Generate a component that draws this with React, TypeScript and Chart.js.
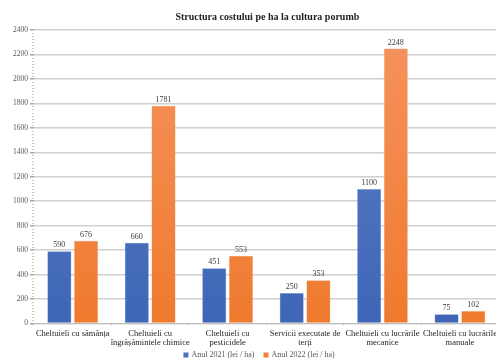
import React, { useEffect, useRef } from "react";
import { Chart, registerables } from "chart.js";

Chart.register(...registerables);

const categories: string[][] = [
  ["Cheltuieli cu sămânța"],
  ["Cheltuieli cu", "îngrășămintele chimice"],
  ["Cheltuieli cu", "pesticidele"],
  ["Servicii executate de", "terți"],
  ["Cheltuieli cu lucrările", "mecanice"],
  ["Cheltuieli cu lucrările", "manuale"],
];
const series2021: number[] = [590, 660, 451, 250, 1100, 75];
const series2022: number[] = [676, 1781, 553, 353, 2248, 102];
const seriesNames: string[] = ["Anul 2021 (lei / ha)", "Anul 2022 (lei / ha)"];
const seriesColors: string[] = ["#4a70c0", "#f07f36"];
const chartTitle = "Structura costului pe ha la cultura porumb";

const SERIF = "'Liberation Serif', 'Times New Roman', serif";
const CANVAS_W = 500;
const CANVAS_H = 361;

function gradient(chart: any, top: string, bottom: string) {
  const area = chart.chartArea;
  if (!area) return bottom;
  const g = chart.ctx.createLinearGradient(0, area.top, 0, area.bottom);
  g.addColorStop(0, top);
  g.addColorStop(1, bottom);
  return g;
}

// Writes each bar's value just above it
const valueLabels = {
  id: "valueLabels",
  afterDatasetsDraw(chart: any) {
    const ctx = chart.ctx;
    ctx.save();
    ctx.font = `8px ${SERIF}`;
    ctx.fillStyle = "#404040";
    ctx.textAlign = "center";
    ctx.textBaseline = "bottom";
    chart.data.datasets.forEach((ds: any, i: number) => {
      const meta = chart.getDatasetMeta(i);
      meta.data.forEach((bar: any, j: number) => {
        ctx.fillText(String(ds.data[j]), bar.x, bar.y - 2);
      });
    });
    ctx.restore();
  },
};

// Faint minor tick marks along the value axis
const minorTicks = {
  id: "minorTicks",
  afterDraw(chart: any) {
    const y = chart.scales.y;
    const ctx = chart.ctx;
    const x = chart.chartArea.left;
    ctx.save();
    ctx.strokeStyle = "#c9c9c9";
    ctx.lineWidth = 1;
    for (let v = 0; v <= y.max; v += 25) {
      if (v % 200 === 0) continue;
      const py = Math.round(y.getPixelForValue(v)) + 0.5;
      ctx.beginPath();
      ctx.moveTo(x - 2, py);
      ctx.lineTo(x, py);
      ctx.stroke();
    }
    ctx.restore();
  },
};

// Bold title centred over the plot area
const topTitle = {
  id: "topTitle",
  afterDraw(chart: any) {
    const ctx = chart.ctx;
    const area = chart.chartArea;
    ctx.save();
    ctx.font = `bold 10px ${SERIF}`;
    ctx.fillStyle = "#1f1f1f";
    ctx.textAlign = "center";
    ctx.textBaseline = "middle";
    ctx.fillText(chartTitle, (area.left + area.right) / 2 + 1, 17);
    ctx.restore();
  },
};

// Compact legend row under the chart
const bottomLegend = {
  id: "bottomLegend",
  afterDraw(chart: any) {
    const ctx = chart.ctx;
    ctx.save();
    ctx.font = `8px ${SERIF}`;
    ctx.textBaseline = "middle";
    const box = 5;
    const gapText = 3;
    const gapItem = 9;
    const widths = seriesNames.map((n) => box + gapText + ctx.measureText(n).width);
    const total = widths.reduce((a, b) => a + b, 0) + gapItem * (widths.length - 1);
    let x = 259 - total / 2;
    const y = chart.height - 6;
    seriesNames.forEach((name, i) => {
      ctx.fillStyle = seriesColors[i];
      ctx.fillRect(x, y - box / 2, box, box);
      ctx.fillStyle = "#595959";
      ctx.textAlign = "left";
      ctx.fillText(name, x + box + gapText, y);
      x += widths[i] + gapItem;
    });
    ctx.restore();
  },
};

export default function App() {
  const ref = useRef<HTMLCanvasElement>(null);

  useEffect(() => {
    if (!ref.current) return;
    const chart = new Chart(ref.current, {
      type: "bar",
      data: {
        labels: categories,
        datasets: [
          {
            label: seriesNames[0],
            data: series2021,
            backgroundColor: (c: any) => gradient(c.chart, "#5a80c9", "#3f65b6"),
            borderColor: "#7e9bd6",
            borderWidth: 0.5,
          },
          {
            label: seriesNames[1],
            data: series2022,
            backgroundColor: (c: any) => gradient(c.chart, "#f6935e", "#ef7a2e"),
            borderColor: "#f8b08a",
            borderWidth: 0.5,
          },
        ],
      },
      options: {
        animation: false,
        responsive: false,
        maintainAspectRatio: false,
        categoryPercentage: 0.69,
        barPercentage: 0.9,
        layout: { padding: { top: 30, right: 0, left: 0, bottom: 10 } },
        plugins: {
          title: { display: false },
          legend: { display: false },
          tooltip: { enabled: false },
        },
        scales: {
          x: {
            grid: {
              display: true,
              offset: true,
              drawOnChartArea: false,
              color: "#bfbfbf",
              tickLength: 2,
            },
            border: { color: "#bfbfbf" },
            ticks: {
              color: "#262626",
              font: { family: SERIF, size: 8.5, lineHeight: 1.15 },
              maxRotation: 0,
              autoSkip: false,
              padding: 3,
            },
          },
          y: {
            min: 0,
            max: 2400,
            afterFit: (s: any) => {
              s.width = 34;
            },
            ticks: {
              stepSize: 200,
              color: "#595959",
              font: { family: SERIF, size: 7.5 },
              padding: 2,
              callback: (v: any) => String(v),
            },
            grid: {
              color: "#d0d0d0",
              lineWidth: 1.5,
              tickLength: 4,
              tickColor: "#a6a6a6",
            },
            border: { display: false },
          },
        },
      },
      plugins: [valueLabels, minorTicks, topTitle, bottomLegend],
    });
    return () => chart.destroy();
  }, []);

  return (
    <div
      style={{
        position: "fixed",
        left: 0,
        top: 0,
        width: 496,
        height: 361,
        overflow: "hidden",
        background: "#fff",
      }}
    >
      <canvas ref={ref} width={CANVAS_W} height={CANVAS_H} />
    </div>
  );
}
